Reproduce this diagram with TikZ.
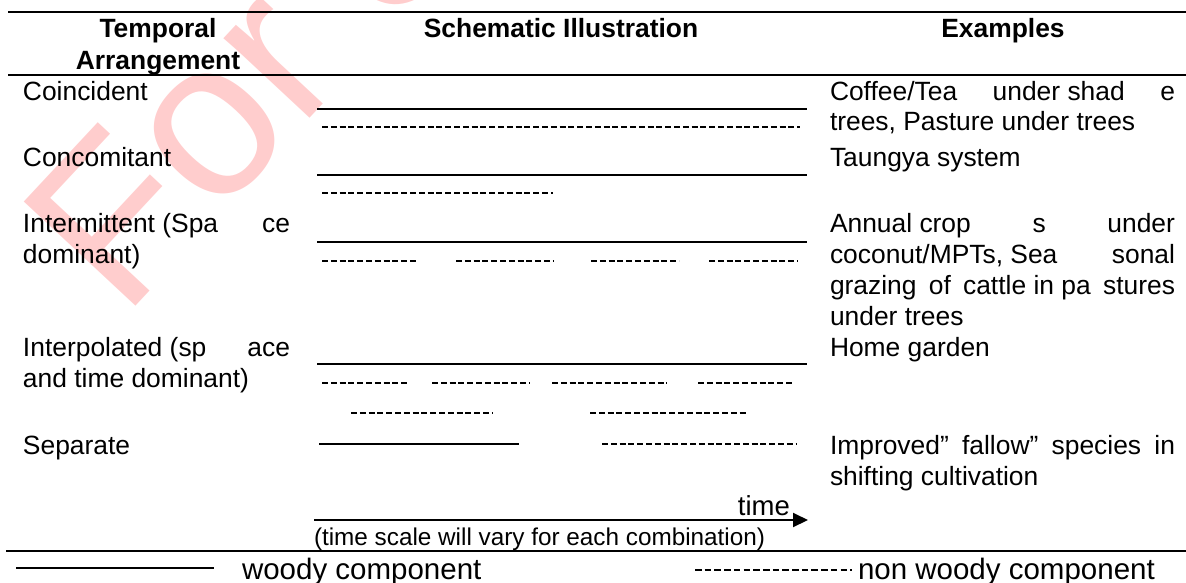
\documentclass[tikz,border=0pt]{standalone}
\usepackage{fontspec}
\setmainfont{Liberation Sans}
\usetikzlibrary{arrows.meta}
\definecolor{wmpink}{RGB}{255,205,205}
\begin{document}
\begin{tikzpicture}[x=1pt,y=-1pt,
  txt/.style={inner sep=0pt, outer sep=0pt, anchor=base west, font=\fontsize{26.4}{30}\selectfont},
  hdr/.style={inner sep=0pt, outer sep=0pt, anchor=base, font=\fontsize{26.4}{30}\selectfont\bfseries},
  small/.style={inner sep=0pt, outer sep=0pt, anchor=base west, font=\fontsize{24.3}{28}\selectfont},
  legend/.style={inner sep=0pt, outer sep=0pt, anchor=base west, font=\fontsize{29.5}{34}\selectfont},
  wm/.style={inner sep=0pt, outer sep=0pt, anchor=base west, rotate=47, text=wmpink, font=\fontsize{222}{222}\selectfont},
  rulel/.style={line width=2pt},
  woody/.style={line width=2pt},
  woodythin/.style={line width=1.3pt},
  nonwoody/.style={line width=1.8pt, dash pattern=on 6pt off 2.8pt},
  nonwoodyleg/.style={line width=1.6pt, dash pattern=on 6.6pt off 3.1pt},
  timearrow/.style={line width=2pt, -{Triangle[length=15pt,width=14pt]}},
]
\useasboundingbox (0,0) rectangle (1186,582);
% watermark
\begin{scope}
\clip (0,0) rectangle (1186,582);
\node[wm] (wm) at (123,319) {For Sale};
\end{scope}
% rules
\coordinate (r1a) at (8,12);   \coordinate (r1b) at (1186,12);
\coordinate (r2a) at (8,75);   \coordinate (r2b) at (1186,75);
\coordinate (r3a) at (6,551);  \coordinate (r3b) at (1186,551);
\draw[rulel] (r1a) -- (r1b);
\draw[rulel] (r2a) -- (r2b);
\draw[rulel] (r3a) -- (r3b);
% headers
\node[hdr] (h1a) at (158,37) {Temporal};
\node[hdr] (h1b) at (158,69) {Arrangement};
\node[hdr] (h2) at (561,37) {Schematic Illustration};
\node[hdr] (h3) at (1003,37) {Examples};
% left column
\node[txt] (c1) at (23,100) {Coincident};
\node[txt] (c2) at (23,166) {Concomitant};
\node[txt] (c3a) at (23,232) {\hbox to 267pt{Intermittent (Spa\hfill ce}};
\node[txt] (c3b) at (23,263) {dominant)};
\node[txt] (c4a) at (23,356) {\hbox to 267pt{Interpolated (sp\hfill ace}};
\node[txt] (c4b) at (23,387) {and time dominant)};
\node[txt] (c5) at (23,454) {Separate};
% schematic lines
\draw[woody] (317,109) -- (807,109);
\draw[nonwoody] (322,127) -- (800,127);
\draw[woody] (317,175) -- (807,175);
\draw[nonwoody] (322,193) -- (553,193);
\draw[woody] (317,242) -- (807,242);
\draw[nonwoody] (322,261) -- (418,261);
\draw[nonwoody] (456,261) -- (553,261);
\draw[nonwoody] (591,261) -- (679,261);
\draw[nonwoody] (709,261) -- (798,261);
\draw[woody] (317,364) -- (807,364);
\draw[nonwoody] (322,383) -- (409,383);
\draw[nonwoody] (432,383) -- (529,383);
\draw[nonwoody] (552,383) -- (667,383);
\draw[nonwoody] (698,383) -- (794,383);
\draw[nonwoody] (351,413) -- (492,413);
\draw[nonwoody] (590,413) -- (748,413);
\draw[woodythin] (319,444) -- (519,444);
\draw[nonwoody] (602,444) -- (796,444);
% examples
\node[txt] (e1a) at (830,100) {\hbox to 345pt{Coffee/Tea\hfill under shad\hfill e}};
\node[txt] (e1b) at (830,130) {trees, Pasture under trees};
\node[txt] (e2) at (830,166) {Taungya system};
\node[txt] (e3a) at (830,232) {\hbox to 345pt{Annual crop\hfill s\hfill under}};
\node[txt] (e3b) at (830,263) {\hbox to 345pt{coconut/MPTs, Sea\hfill sonal}};
\node[txt] (e3c) at (830,294) {\hbox to 345pt{grazing\hfill of\hfill cattle in pa\hfill stures}};
\node[txt] (e3d) at (830,325) {under trees};
\node[txt] (e4) at (830,356) {Home garden};
\node[txt] (e5a) at (830,454) {\hbox to 345pt{Improved\char"22\hfill fallow\char"22\hfill species\hfill in}};
\node[txt] (e5b) at (830,485) {shifting cultivation};
% time axis
\coordinate (ta) at (314,520);
\coordinate (tb) at (808,520);
\draw[timearrow] (ta) -- (tb);
\node[inner sep=0pt, anchor=base east, font=\fontsize{27.5}{30}\selectfont] (tl) at (790,515) {time};
\node[small] (ts) at (314,545) {(time scale will vary for each combination)};
% legend
\coordinate (la) at (16,568);
\coordinate (lb) at (214,568);
\draw[woodythin] (la) -- (lb);
\node[legend] (lw) at (242,579) {woody component};
\coordinate (lc) at (695,570);
\coordinate (ld) at (852,570);
\draw[nonwoodyleg] (lc) -- (ld);
\node[legend] (ln) at (858,579) {non woody component};
\end{tikzpicture}
\end{document}
